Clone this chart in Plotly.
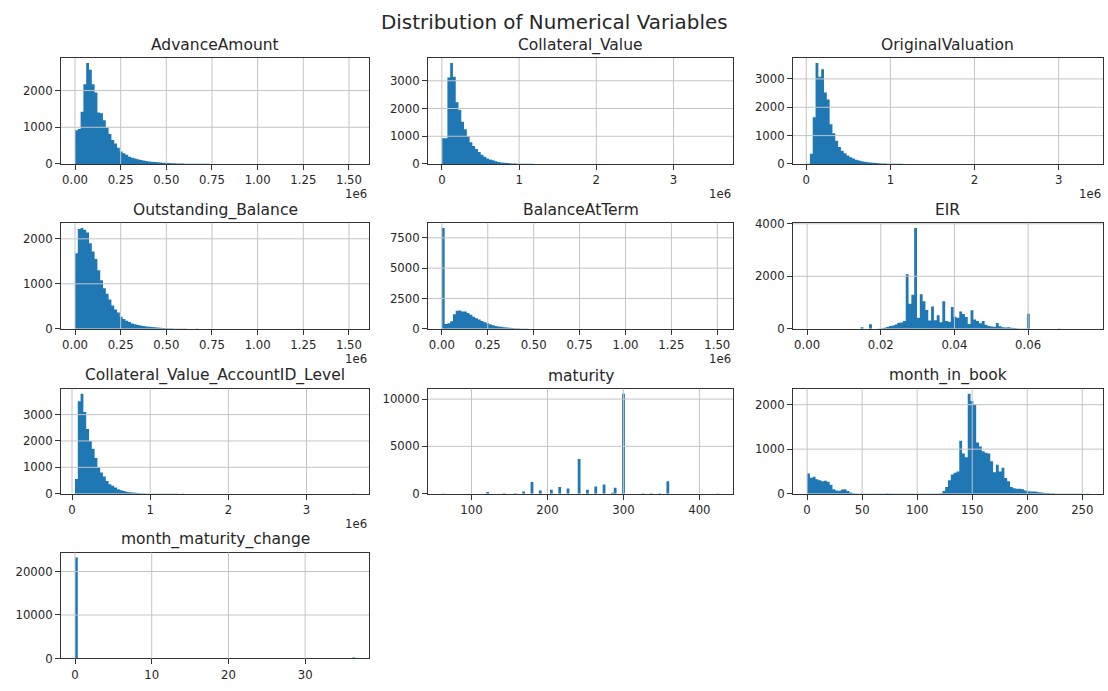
import numpy as np
import plotly.graph_objects as go

# ---------------- data ----------------
variables = ["AdvanceAmount", "Collateral_Value", "OriginalValuation",
             "Outstanding_Balance", "BalanceAtTerm", "EIR",
             "Collateral_Value_AccountID_Level", "maturity", "month_in_book",
             "month_maturity_change"]

# data min / max of each variable (histogram spans these with 100 bins)
adv_range = (0.0, 1.533e6)
coll_range = (0.0, 3.59e6)
orig_range = (0.0097e6, 3.36e6)
outst_range = (0.0, 1.533e6)
bat_range = (0.0, 1.51e6)
eir_range = (0.0, 0.0765)
cvacc_range = (0.038e6, 3.62e6)
mat_range = (61.0, 426.0)
mib_range = (0.0, 256.0)
mmc_range = (0.0, 36.5)

adv_counts = [920, 950, 1420, 2170, 2750, 2570, 2170, 1950, 1400, 1380,
              1190, 1000, 820, 650, 560, 440, 340, 290, 250, 200,
              170, 150, 130, 110, 95, 80, 70, 60, 52, 45,
              40, 35, 30, 25, 20, 17, 14, 12, 10, 9,
              8, 7, 6, 5, 4, 4, 3, 3, 2, 2,
              2, 1, 1, 1, 1, 1, 1, 0, 1, 0,
              0, 1, 0, 0, 0, 1, 0, 0, 0, 0,
              0, 0, 1, 0, 0, 0, 0, 0, 0, 0,
              0, 0, 0, 0, 0, 0, 0, 0, 0, 0,
              0, 0, 0, 0, 0, 0, 0, 0, 0, 1]

coll_counts = [930, 930, 3120, 3640, 3150, 2230, 1950, 1520, 1250, 1000,
               780, 650, 540, 430, 330, 260, 200, 160, 130, 100,
               75, 55, 42, 32, 25, 20, 15, 12, 9, 7,
               6, 5, 4, 3, 3, 2, 2, 1, 1, 1,
               1, 1, 0, 1, 0, 0, 1, 0, 0, 0,
               0, 0, 0, 0, 0, 0, 0, 0, 0, 0,
               0, 0, 0, 0, 0, 0, 0, 0, 0, 0,
               0, 0, 0, 0, 0, 0, 0, 0, 0, 0,
               0, 0, 0, 0, 0, 0, 0, 0, 0, 0,
               0, 0, 0, 0, 0, 0, 0, 0, 0, 1]

orig_counts = [5, 360, 1650, 3560, 3080, 3340, 2520, 2270, 1400, 1080,
               820, 600, 470, 380, 300, 240, 190, 150, 120, 100,
               80, 65, 50, 40, 30, 25, 20, 15, 12, 10,
               8, 6, 5, 4, 3, 3, 2, 2, 1, 1,
               1, 1, 0, 1, 0, 0, 0, 1, 0, 0,
               0, 0, 0, 0, 0, 0, 0, 0, 0, 0,
               0, 0, 0, 0, 0, 0, 0, 0, 0, 0,
               0, 0, 0, 0, 0, 0, 0, 0, 0, 0,
               0, 0, 0, 0, 0, 0, 0, 0, 0, 0,
               0, 0, 0, 0, 0, 0, 0, 0, 0, 1]

outst_counts = [1680, 2220, 2243, 2200, 2140, 1900, 1720, 1550, 1300, 1080,
                900, 780, 650, 520, 430, 360, 270, 220, 180, 150,
                120, 100, 85, 72, 62, 52, 45, 38, 32, 28,
                24, 20, 16, 12, 10, 8, 7, 6, 5, 6,
                4, 3, 3, 5, 2, 2, 1, 1, 1, 1,
                0, 0, 0, 0, 0, 0, 0, 0, 0, 0,
                0, 0, 0, 0, 0, 0, 0, 0, 0, 0,
                0, 0, 0, 0, 0, 0, 0, 0, 0, 0,
                0, 0, 0, 0, 0, 0, 0, 0, 0, 0,
                0, 0, 0, 0, 0, 0, 0, 0, 0, 1]

bat_counts = [8320, 400, 450, 620, 1200, 1480, 1500, 1420, 1430, 1300,
              1150, 1000, 880, 760, 650, 540, 450, 370, 300, 240,
              200, 160, 130, 100, 80, 65, 50, 40, 30, 25,
              20, 15, 12, 10, 8, 6, 5, 4, 3, 3,
              2, 2, 1, 1, 1, 1, 0, 1, 0, 0,
              0, 0, 0, 0, 0, 0, 0, 0, 0, 0,
              0, 0, 0, 0, 0, 0, 0, 0, 0, 0,
              0, 0, 0, 0, 0, 0, 0, 0, 0, 0,
              0, 0, 0, 0, 0, 0, 0, 0, 0, 0,
              0, 0, 0, 0, 0, 0, 0, 0, 0, 1]

eir_counts = [1, 0, 0, 0, 0, 0, 0, 0, 0, 0,
              0, 0, 0, 0, 0, 0, 0, 0, 0, 60,
              0, 0, 170, 0, 0, 10, 20, 40, 70, 110,
              130, 160, 230, 240, 300, 2080, 950, 1300, 3845, 420,
              1320, 1050, 720, 320, 850, 330, 520, 250, 1050, 300,
              270, 830, 460, 420, 660, 560, 450, 180, 710, 350,
              300, 210, 300, 150, 110, 90, 80, 220, 100, 60,
              50, 60, 40, 30, 20, 15, 10, 10, 570, 0,
              0, 0, 0, 0, 0, 0, 0, 0, 0, 10,
              0, 0, 0, 0, 0, 0, 0, 0, 0, 1]

cvacc_counts = [553, 3505, 3795, 3100, 2450, 2000, 1700, 1350, 1000, 800,
                650, 480, 360, 300, 230, 170, 130, 100, 75, 55,
                40, 30, 22, 16, 12, 9, 7, 5, 4, 3,
                3, 2, 2, 1, 1, 1, 1, 0, 1, 0,
                0, 0, 0, 0, 0, 0, 0, 0, 0, 0,
                0, 0, 0, 0, 0, 0, 0, 0, 0, 0,
                0, 0, 0, 0, 0, 0, 0, 0, 0, 0,
                0, 0, 0, 0, 0, 0, 0, 0, 0, 0,
                0, 0, 0, 0, 0, 0, 0, 0, 0, 0,
                0, 0, 0, 0, 0, 0, 0, 0, 0, 1]

mat_counts = [5, 0, 0, 0, 0, 0, 0, 0, 0, 0,
              0, 0, 0, 0, 0, 0, 170, 0, 0, 0,
              0, 0, 50, 0, 0, 0, 50, 0, 0, 240,
              0, 0, 1240, 0, 0, 345, 0, 0, 0, 414,
              0, 0, 690, 0, 0, 550, 0, 0, 0, 3660,
              0, 0, 414, 0, 0, 760, 0, 0, 966, 0,
              0, 100, 620, 0, 0, 10575, 0, 0, 0, 0,
              0, 0, 30, 0, 0, 50, 0, 0, 40, 0,
              0, 1310, 0, 0, 0, 0, 0, 0, 0, 0,
              0, 0, 0, 0, 0, 0, 0, 0, 0, 5]

mib_counts = [455, 360, 380, 325, 300, 280, 290, 270, 200, 100,
              70, 65, 95, 100, 60, 25, 10, 5, 3, 2,
              2, 2, 1, 1, 2, 1, 2, 1, 10, 2,
              1, 1, 1, 1, 1, 4, 1, 1, 1, 1,
              1, 1, 1, 1, 2, 2, 3, 8, 60, 150,
              300, 430, 470, 500, 1190, 900, 820, 2247, 2080, 2000,
              1150, 1060, 950, 920, 900, 730, 480, 650, 500, 580,
              350, 280, 150, 120, 110, 110, 100, 70, 55, 50,
              50, 45, 30, 25, 15, 12, 10, 8, 6, 5,
              4, 3, 3, 2, 2, 1, 1, 1, 0, 1]

mmc_counts = [23200, 0, 0, 0, 0, 0, 0, 0, 0, 0,
              0, 0, 0, 0, 0, 0, 0, 0, 0, 0,
              0, 0, 0, 0, 0, 0, 0, 0, 0, 0,
              0, 0, 0, 0, 0, 0, 0, 0, 0, 0,
              0, 0, 0, 0, 0, 0, 0, 0, 0, 0,
              0, 0, 0, 0, 0, 0, 0, 0, 0, 0,
              0, 0, 0, 0, 0, 0, 0, 0, 0, 0,
              0, 0, 0, 0, 0, 0, 0, 0, 0, 0,
              0, 0, 0, 0, 0, 0, 0, 0, 0, 0,
              0, 0, 0, 0, 0, 0, 0, 0, 0, 200]

# tick values and labels
x_ticks_m15 = [0, 0.25e6, 0.5e6, 0.75e6, 1.0e6, 1.25e6, 1.5e6]
x_labels_m15 = ["0.00", "0.25", "0.50", "0.75", "1.00", "1.25", "1.50"]
x_ticks_m3 = [0, 1e6, 2e6, 3e6]
x_labels_m3 = ["0", "1", "2", "3"]
x_ticks_eir = [0.0, 0.02, 0.04, 0.06]
x_labels_eir = ["0.00", "0.02", "0.04", "0.06"]
x_ticks_mat = [100, 200, 300, 400]
x_ticks_mib = [0, 50, 100, 150, 200, 250]
x_ticks_mmc = [0, 10, 20, 30]

y_ticks_a = [0, 1000, 2000]
y_ticks_b = [0, 1000, 2000, 3000]
y_ticks_bat = [0, 2500, 5000, 7500]
y_ticks_eir = [0, 2000, 4000]
y_ticks_mat = [0, 5000, 10000]
y_ticks_mmc = [0, 10000, 20000]

panels = [
    ("AdvanceAmount", adv_range, adv_counts, x_ticks_m15, x_labels_m15, y_ticks_a, True),
    ("Collateral_Value", coll_range, coll_counts, x_ticks_m3, x_labels_m3, y_ticks_b, True),
    ("OriginalValuation", orig_range, orig_counts, x_ticks_m3, x_labels_m3, y_ticks_b, True),
    ("Outstanding_Balance", outst_range, outst_counts, x_ticks_m15, x_labels_m15, y_ticks_a, True),
    ("BalanceAtTerm", bat_range, bat_counts, x_ticks_m15, x_labels_m15, y_ticks_bat, True),
    ("EIR", eir_range, eir_counts, x_ticks_eir, x_labels_eir, y_ticks_eir, False),
    ("Collateral_Value_AccountID_Level", cvacc_range, cvacc_counts, x_ticks_m3, x_labels_m3, y_ticks_b, True),
    ("maturity", mat_range, mat_counts, x_ticks_mat, [str(v) for v in x_ticks_mat], y_ticks_mat, False),
    ("month_in_book", mib_range, mib_counts, x_ticks_mib, [str(v) for v in x_ticks_mib], y_ticks_a, False),
    ("month_maturity_change", mmc_range, mmc_counts, x_ticks_mmc, [str(v) for v in x_ticks_mmc], y_ticks_mmc, False),
]

# ---------------- layout geometry (pixels) ----------------
W, H = 1108, 691
cols_px = [(61, 369), (428, 733), (793, 1103)]
rows_px = [(53, 161), (221, 329), (390, 497), (557, 665)]

FONT = "DejaVu Sans"
TXT = "#262626"
BAR = "#1f77b4"
GRID = "#c4c4c4"
SPINE = "#333333"

fig = go.Figure()
layout = dict(
    width=W, height=H, margin=dict(l=0, r=0, t=0, b=0),
    paper_bgcolor="white", plot_bgcolor="white", showlegend=False,
    font=dict(family=FONT, size=12, color=TXT),
)
shapes = []
annotations = []

for k, (name, (mn, mx), counts, xt, xl, yt, offset) in enumerate(panels):
    r, c = divmod(k, 3)
    x0p, x1p = cols_px[c]
    y0p, y1p = rows_px[r]
    n = "" if k == 0 else str(k + 1)
    edges = np.linspace(mn, mx, len(counts) + 1)
    # histogram drawn as a stepped, filled outline of the 100 bins
    fig.add_trace(go.Scatter(x=edges, y=list(counts) + [counts[-1]], mode="lines",
                             line=dict(width=0, shape="hv", color=BAR),
                             fill="tozeroy", fillcolor=BAR,
                             xaxis="x" + n, yaxis="y" + n, hoverinfo="skip"))
    span = mx - mn
    xr = [mn - 0.05 * span, mx + 0.05 * span]
    yr = [0, 1.05 * max(counts)]
    axis_common = dict(showgrid=False, zeroline=False, showline=True, mirror=True,
                       linecolor=SPINE, linewidth=1, ticks="outside", ticklen=5,
                       tickwidth=1, tickcolor=SPINE,
                       tickfont=dict(family=FONT, size=11.7, color=TXT))
    layout["xaxis" + n] = dict(domain=[x0p / W, x1p / W], anchor="y" + n, range=xr,
                               tickmode="array", tickvals=xt, ticktext=xl, **axis_common)
    layout["yaxis" + n] = dict(domain=[1 - y1p / H, 1 - y0p / H], anchor="x" + n, range=yr,
                               tickmode="array", tickvals=yt, ticktext=[str(v) for v in yt],
                               **axis_common)
    xref = "x" + n
    yref = "y" + n
    for t in xt:
        if xr[0] < t < xr[1]:
            shapes.append(dict(type="line", xref=xref, yref=yref + " domain", x0=t, x1=t,
                               y0=0, y1=1, line=dict(color=GRID, width=1), layer="above"))
    for t in yt:
        if yr[0] < t < yr[1]:
            shapes.append(dict(type="line", xref=xref + " domain", yref=yref, x0=0, x1=1,
                               y0=t, y1=t, line=dict(color=GRID, width=1), layer="above"))
    annotations.append(dict(text=name, xref="paper", yref="paper",
                            x=(x0p + x1p) / 2 / W, y=1 - (y0p - 13) / H,
                            xanchor="center", yanchor="middle", showarrow=False,
                            font=dict(family=FONT, size=15.5, color=TXT)))
    if offset:
        annotations.append(dict(text="1e6", xref="paper", yref="paper",
                                x=x1p / W, y=1 - (y1p + 31) / H,
                                xanchor="right", yanchor="middle", showarrow=False,
                                font=dict(family=FONT, size=11.7, color=TXT)))

annotations.append(dict(text="Distribution of Numerical Variables", xref="paper", yref="paper",
                        x=0.5, y=1 - 17 / H, xanchor="center", yanchor="middle",
                        showarrow=False, font=dict(family=FONT, size=19.9, color=TXT)))

layout["shapes"] = shapes
layout["annotations"] = annotations
fig.update_layout(**layout)
fig.write_html("out.html")
